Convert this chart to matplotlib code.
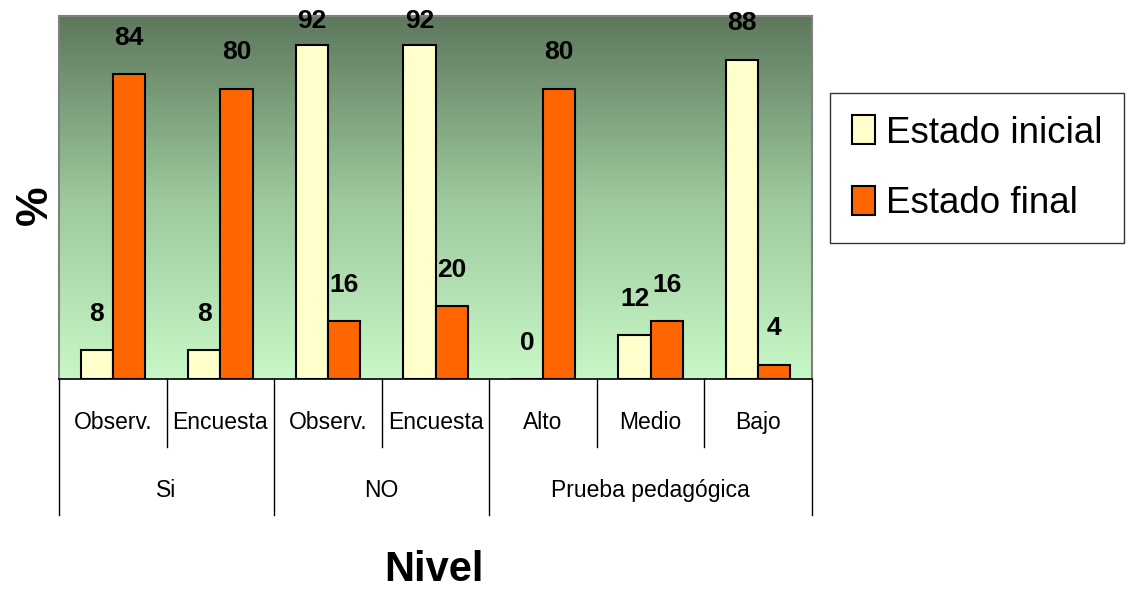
import numpy as np
import matplotlib
matplotlib.use("Agg")
import matplotlib.pyplot as plt
from matplotlib.colors import LinearSegmentedColormap

plt.rcParams['font.family'] = ['Liberation Sans', 'DejaVu Sans']

# data
subcats = ['Observ.', 'Encuesta', 'Observ.', 'Encuesta', 'Alto', 'Medio', 'Bajo']
groups = ['Si', 'NO', 'Prueba pedagógica']
group_sizes = [2, 2, 3]
inicial = [8, 8, 92, 92, 0, 12, 88]
final = [84, 80, 16, 20, 80, 16, 4]
series_names = ['Estado inicial', 'Estado final']
colors = ['#ffffcc', '#ff6600']

fig = plt.figure(figsize=(11.29, 5.89), dpi=100)
ax = fig.add_axes([0.0523, 0.3565, 0.6669, 0.6163])

x = np.arange(len(subcats))
w = 0.3
ax.set_xlim(-0.5, len(subcats) - 0.5)
ax.set_ylim(0, 100)

# green gradient background
cmap = LinearSegmentedColormap.from_list('bg', ['#c8f8c8', '#9cc89c', '#5d775d'])
grad = np.linspace(0, 1, 256).reshape(-1, 1)
ax.imshow(grad, cmap=cmap, aspect='auto', extent=[-0.5, len(subcats) - 0.5, 0, 100],
          origin='lower', zorder=0)

b1 = ax.bar(x - w / 2, inicial, w, color=colors[0], edgecolor='black', linewidth=1.5,
            label=series_names[0], zorder=2)
b2 = ax.bar(x + w / 2, final, w, color=colors[1], edgecolor='black', linewidth=1.5,
            label=series_names[1], zorder=2)

for xs, vals in [(x - w / 2, inicial), (x + w / 2, final)]:
    for xi, v in zip(xs, vals):
        ax.text(xi, min(v + 10, 98.5), str(v), ha='center', va='center',
                fontsize=19, fontweight='bold', zorder=3)

for side in ['left', 'top', 'right']:
    ax.spines[side].set_color('#808080')
    ax.spines[side].set_linewidth(1.5)
ax.spines['bottom'].set_color('black')
ax.spines['bottom'].set_linewidth(1.2)
ax.set_xticks([])
ax.set_yticks([])

# two-level category axis
tr = ax.get_xaxis_transform()
bounds = np.concatenate([[0], np.cumsum(group_sizes)]) - 0.5
for b in bounds:
    ax.plot([b, b], [0, -0.375], color='black', lw=1, transform=tr, clip_on=False)
for i in range(len(subcats) - 1):
    if i + 0.5 not in bounds:
        ax.plot([i + 0.5, i + 0.5], [0, -0.187], color='black', lw=1, transform=tr, clip_on=False)
for xi, lab in zip(x, subcats):
    ax.text(xi, -0.121, lab, ha='center', va='center', fontsize=16.5, transform=tr)
for g, lab in enumerate(groups):
    ax.text((bounds[g] + bounds[g + 1]) / 2, -0.306, lab, ha='center', va='center',
            fontsize=16.5, transform=tr)

fig.text(0.384, 0.033, 'Nivel', ha='center', va='center', fontsize=30, fontweight='bold')
fig.text(0.031, 0.652, '%', ha='center', va='center', fontsize=32, fontweight='bold',
         rotation=90)

leg = fig.legend(handles=[b1, b2], loc='upper left', bbox_to_anchor=(0.735, 0.842),
                 borderaxespad=0, fontsize=26.5, frameon=True, fancybox=False,
                 edgecolor='black', handlelength=0.62, handleheight=0.85,
                 handletextpad=0.3, borderpad=0.6, labelspacing=0.95)
leg.get_frame().set_linewidth(1.0)

fig.savefig('out.png', dpi=100)
